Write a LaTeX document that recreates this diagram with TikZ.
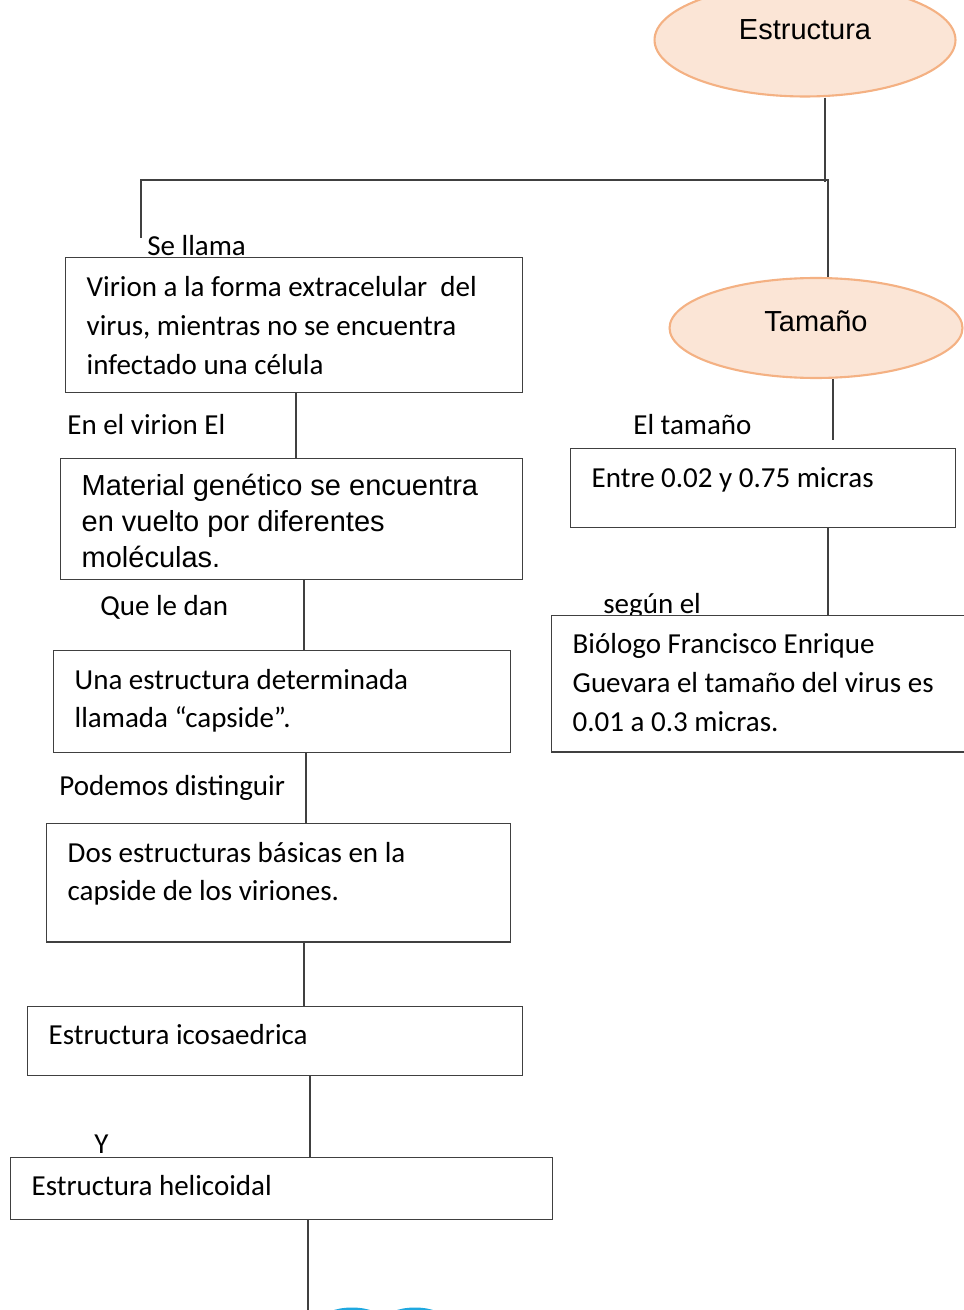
\documentclass[tikz,border=0pt]{standalone}
\usepackage{fontspec}
\setmainfont{Carlito}
\newfontfamily\arialf{Liberation Sans}
\usepackage{xcolor}
\usetikzlibrary{shapes.geometric}
\definecolor{durazno}{HTML}{F4B183}
\definecolor{rosado}{HTML}{FBE5D6}
\definecolor{linea}{HTML}{404040}
\definecolor{celeste}{HTML}{1FA8E0}

\begin{document}
\begin{tikzpicture}[x=0.02cm,y=-0.02cm,
        font=\fontsize{16.5pt}{22.1pt}\selectfont,
        caja/.style={draw=linea,line width=0.8pt,fill=white,anchor=north west,align=flush left,inner xsep=0.42cm,inner ysep=0pt},
        elipse/.style={ellipse,draw=durazno,fill=rosado,line width=1.2pt,inner sep=0pt,font=\arialf\fontsize{16.5pt}{20pt}\selectfont},
        etiqueta/.style={anchor=base west,inner sep=0pt},
        conector/.style={draw=linea,line width=0.7pt}]
        \useasboundingbox (0,0) rectangle (963,1310);
        \node[etiqueta] (sellama) at (147,256) {Se llama};
        \node[etiqueta] (envirion) at (67,435) {En el virion El};
        \node[etiqueta] (queledan) at (100,615) {Que le dan};
        \node[etiqueta] (podemos) at (59,795) {Podemos distinguir};
        \node[etiqueta] (ye) at (94,1153) {Y};
        \node[etiqueta] (eltamano) at (633,435) {El tamaño};
        \node[etiqueta] (segun) at (603,613) {según el};
        \node[caja,text width=8.30cm,text height=22pt,text depth=54.6pt] (virion) at (65,257) {Virion a la forma extracelular~ del\\virus, mientras no se encuentra\\infectado una célula};
        \node[caja,text width=8.40cm,text height=21pt,text depth=47.6pt,font=\arialf\fontsize{16.5pt}{20.4pt}\selectfont] (material) at (60,458) {Material genético se encuentra\\en vuelto por diferentes\\moléculas.};
        \node[caja,text width=8.30cm,text height=21.8pt,text depth=36pt] (capside) at (53,650) {Una estructura determinada\\llamada “capside”.};
        \node[caja,text width=8.44cm,text height=21.8pt,text depth=45.6pt] (basicas) at (46,823) {Dos estructuras básicas en la\\capside de los viriones.};
        \node[caja,text width=9.06cm,text height=21.4pt,text depth=17.7pt] (icosa) at (27,1006) {Estructura icosaedrica};
        \node[caja,text width=10.0cm,text height=21.4pt,text depth=13.7pt] (helic) at (10,1157) {Estructura helicoidal};
        \node[caja,text width=6.86cm,text height=22.1pt,text depth=22.7pt] (rango) at (570,448) {Entre 0.02 y 0.75 micras};
        \node[caja,text width=7.76cm,text height=21.5pt,text depth=56.1pt] (biologo) at (551,615) {Biólogo Francisco Enrique\\Guevara el tamaño del virus es\\0.01 a 0.3 micras.};
        \node[elipse,minimum width=6.02cm,minimum height=2.26cm,text height=12pt,text depth=12.5pt] (estructura) at (805,40) {Estructura};
        \node[elipse,minimum width=5.86cm,minimum height=2.0cm,text height=12pt,text depth=8.2pt] (tamano) at (816,328) {Tamaño};
        \coordinate (r1) at (825,182);
        \coordinate (r2) at (828,180);
        \coordinate (l1) at (141,238);
        \coordinate (d1) at (833,440);
        \coordinate (c1) at (296,0);
        \coordinate (c2) at (304,0);
        \coordinate (c3) at (306,0);
        \coordinate (c4) at (304,0);
        \coordinate (c5) at (310,0);
        \coordinate (c8) at (828,0);
        \coordinate (fin) at (308,1310);
        \draw[conector] (estructura.south -| r1) -- (r1);
        \draw[conector] (l1) |- (r2) -- (tamano.north -| r2);
        \draw[conector] (tamano.south -| d1) -- (d1);
        \draw[conector] (rango.south -| c8) -- (biologo.north -| c8);
        \draw[conector] (virion.south -| c1) -- (material.north -| c1);
        \draw[conector] (material.south -| c2) -- (capside.north -| c2);
        \draw[conector] (capside.south -| c3) -- (basicas.north -| c3);
        \draw[conector] (basicas.south -| c4) -- (icosa.north -| c4);
        \draw[conector] (icosa.south -| c5) -- (helic.north -| c5);
        \draw[conector,line width=1pt] (helic.south -| fin) -- (fin);
        \fill[celeste] (352,1320) ellipse (30 and 12.5);
        \fill[celeste] (415,1320) ellipse (30 and 12.5);
    \end{tikzpicture}
\end{document}
